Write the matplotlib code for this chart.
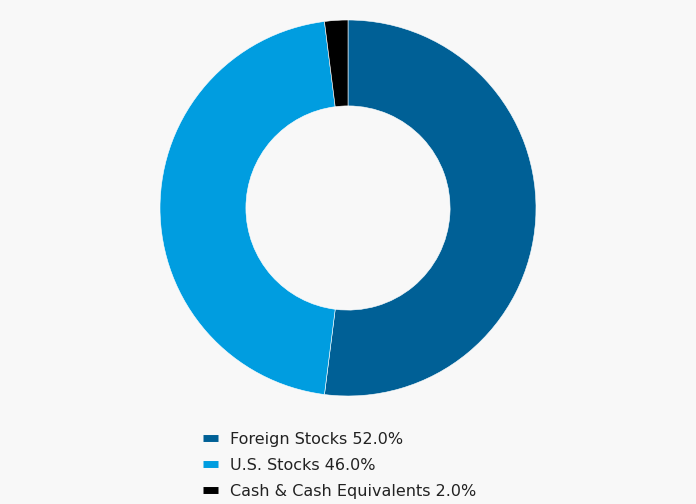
import matplotlib.pyplot as plt
from matplotlib.lines import Line2D

labels = ['Foreign Stocks', 'U.S. Stocks', 'Cash & Cash Equivalents']
values = [52.0, 46.0, 2.0]
colors = ['#006096', '#009de0', '#000000']
bg = '#f8f8f8'

fig = plt.figure(figsize=(6.96, 5.04), dpi=100, facecolor=bg)
ax = fig.add_axes([160 / 696, 108 / 504, 376 / 696, 376 / 504])
ax.set_facecolor(bg)
ax.pie(values, colors=colors, startangle=90, counterclock=False,
       radius=1.0, wedgeprops=dict(width=0.457, edgecolor='white', linewidth=0.4))
ax.set_xlim(-1, 1)
ax.set_ylim(-1, 1)
ax.set_aspect('equal')
ax.axis('off')

# legend below the donut, short thick bars as markers
handles = [Line2D([], [], color=c, lw=5, solid_capstyle='butt') for c in colors]
legend_labels = ['{} {:.1f}%'.format(l, v) for l, v in zip(labels, values)]
fig.legend(handles, legend_labels, loc='upper left',
           bbox_to_anchor=(203 / 696, 1 - 432 / 504), frameon=False,
           fontsize=11.5, handlelength=0.95, handletextpad=0.75,
           labelspacing=0.68, borderpad=0, borderaxespad=0, labelcolor='#222222')

fig.savefig('out.png', dpi=100, facecolor=bg)
